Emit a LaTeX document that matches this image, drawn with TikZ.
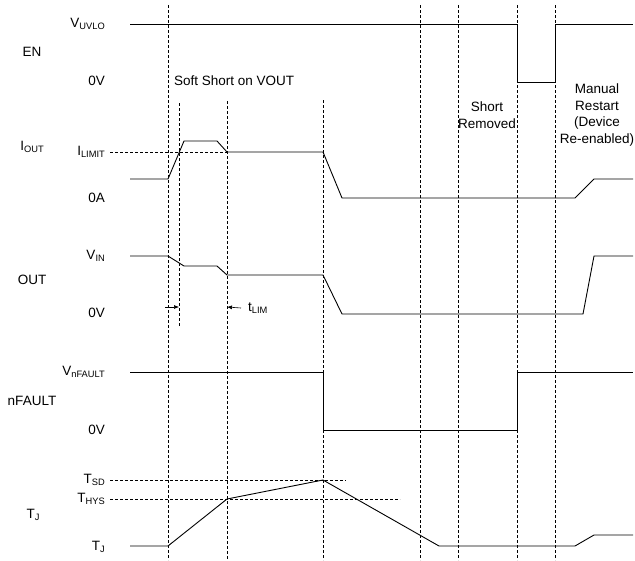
\documentclass[tikz,border=0pt]{standalone}
\usepackage{fontspec}
\setmainfont{Liberation Sans}
\usetikzlibrary{arrows.meta, positioning}
\newcommand{\lowsub}[1]{\raisebox{-0.35ex}{\fontsize{9.3}{9.3}\selectfont #1}}

\begin{document}
\begin{tikzpicture}[x=1pt, y=-1pt, >={Latex[length=5pt,width=4pt]},
  sig/.style={line width=0.9pt},
  guide/.style={line width=0.6pt, dash pattern=on 3pt off 2pt},
  lvl/.style={anchor=east, inner sep=0pt, font=\fontsize{13.5}{15}\selectfont},
  signame/.style={inner sep=0pt, font=\fontsize{13.5}{15}\selectfont},
  note/.style={align=center, inner sep=0pt, font=\fontsize{13.5}{16.5}\selectfont}]
  \useasboundingbox (0,0) rectangle (635,560);

  \draw[guide] (168,5) -- (168,560);
  \draw[guide] (179,103) -- (179,326);
  \draw[guide] (227,101) -- (227,560);
  \draw[guide] (323,100) -- (323,560);
  \draw[guide] (420,5) -- (420,560);
  \draw[guide] (458,5) -- (458,560);
  \draw[guide] (517,5) -- (517,560);
  \draw[guide] (555,5) -- (555,560);

  \draw[sig] (130,24) -- (517,24) -- (517,82) -- (555,82) -- (555,24) -- (633,24);
  \draw[guide] (110,152) -- (227,152);
  \draw[sig] (130,179) -- (168,179) -- (184,141) -- (217,141) -- (227,152) -- (323,152)
    -- (342,198) -- (575,198) -- (594,179) -- (633,179);
  \draw[sig] (130,256) -- (168,256) -- (184,266) -- (217,266) -- (227,275) -- (323,275)
    -- (342,314) -- (583,314) -- (594,256) -- (633,256);
  \draw[sig] (130,372) -- (323,372) -- (323,430) -- (517,430) -- (517,372) -- (633,372);
  \draw[guide] (110,480) -- (346,480);
  \draw[guide] (110,499) -- (400,499);
  \draw[sig] (130,546) -- (168,546) -- (227,499) -- (323,480) -- (439,546) -- (575,546)
    -- (594,535) -- (633,535);

  \node[signame] (en) at (32,52) {EN};
  \node[lvl] (vuvlo) at (105,24) {V\lowsub{UVLO}};
  \node[lvl] (enlow) at (105,81) {0V};
  \node[signame, anchor=west] (soft) at (174,81) {Soft Short on VOUT};
  \node[signame] (iout) at (32,147) {I\lowsub{OUT}};
  \node[lvl] (ilimit) at (105,152) {I\lowsub{LIMIT}};
  \node[lvl] (ioutlow) at (105,198) {0A};
  \node[lvl] (vin) at (105,256) {V\lowsub{IN}};
  \node[signame] (out) at (32,280) {OUT};
  \node[lvl] (outlow) at (105,313) {0V};
  \node[lvl] (vnfault) at (105,372) {V\lowsub{nFAULT}};
  \node[signame] (nfault) at (32,401) {nFAULT};
  \node[lvl] (nfaultlow) at (105,430) {0V};
  \node[lvl] (tsd) at (105,480) {T\lowsub{SD}};
  \node[lvl] (thys) at (105,499) {T\lowsub{HYS}};
  \node[signame] (tj) at (33,515) {T\lowsub{J}};
  \node[lvl] (tjlow) at (105,547) {T\lowsub{J}};
  \node[note] (removed) at (487,115) {Short\\Removed};
  \node[note] (restart) at (597,115) {Manual\\Restart\\(Device\\Re-enabled)};
  \node[signame, anchor=west] (tlim) at (248,308) {t\lowsub{LIM}};

  \coordinate (limstart) at (165,307);
  \draw[->, line width=0.6pt] (limstart) -- (179,307);
  \draw[->, line width=0.6pt] ([xshift=-7pt]tlim.west) -- (227,307);
\end{tikzpicture}
\end{document}
